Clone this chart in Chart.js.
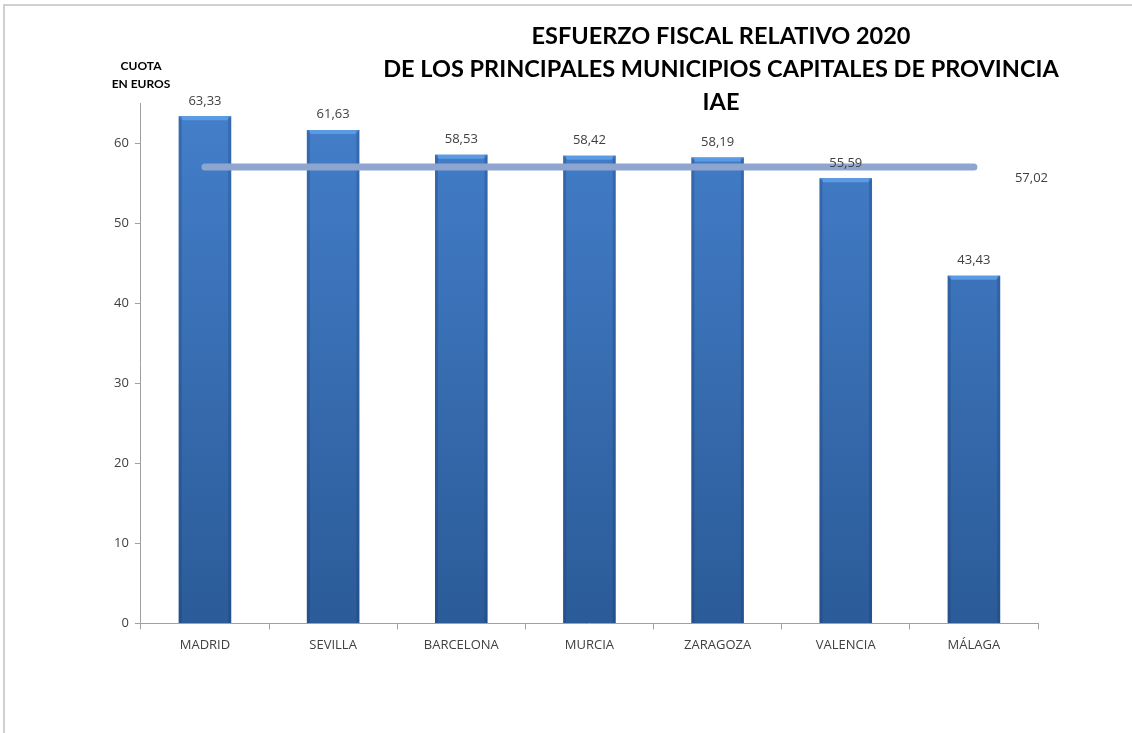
<!DOCTYPE html>
<html>
<head>
<meta charset="utf-8">
<script src="https://cdn.jsdelivr.net/npm/chart.js@4"></script>
<style>
  html, body { margin: 0; padding: 0; background: #fff; }
  #marco { position: absolute; left: 3px; top: 4px; width: 1129px; height: 729px;
           border-left: 2px solid #d0d0d0; border-top: 2px solid #d0d0d0; box-sizing: border-box; }
  #wrap { position: absolute; left: 0; top: 0; width: 1132px; height: 733px; }
</style>
</head>
<body>
<div id="marco"></div>
<div id="wrap"><canvas id="myChart" width="1132" height="733"></canvas></div>
<script>
// Datos del gráfico
var municipios = ["MADRID", "SEVILLA", "BARCELONA", "MURCIA", "ZARAGOZA", "VALENCIA", "MÁLAGA"];
var cuotas = [63.33, 61.63, 58.53, 58.42, 58.19, 55.59, 43.43];
var mediaCuota = 57.02;
var ticksY = [0, 10, 20, 30, 40, 50, 60];
var titulo = ["ESFUERZO FISCAL RELATIVO 2020", "DE LOS PRINCIPALES MUNICIPIOS CAPITALES DE PROVINCIA", "IAE"];

function formato(v) {
  return v.toFixed(2).replace(".", ",");
}

var ctx = document.getElementById("myChart").getContext("2d");

// Plugin para títulos, etiquetas de valor y bisel de las barras
var extras = {
  id: "extras",
  afterDatasetDraw: function (chart, args) {
    if (args.index !== 1) return;
    var c = chart.ctx;
    var barras = args.meta.data;
    c.save();
    barras.forEach(function (b) {
      var w = b.width;
      var x0 = b.x - w / 2;
      // bisel superior
      c.fillStyle = "#5b9be3";
      c.beginPath();
      c.moveTo(x0, b.y);
      c.lineTo(x0 + w, b.y);
      c.lineTo(x0 + w - 4, b.y + 4);
      c.lineTo(x0 + 4, b.y + 4);
      c.closePath();
      c.fill();
      // bordes laterales
      c.fillStyle = "rgba(20,50,100,0.25)";
      c.fillRect(x0, b.y, 3, b.base - b.y);
      c.fillRect(x0 + w - 3, b.y, 3, b.base - b.y);
    });
    c.restore();
  },
  afterDraw: function (chart) {
    var c = chart.ctx;
    c.save();
    // valores encima de cada barra
    c.font = "13px 'Open Sans', sans-serif";
    c.fillStyle = "#404040";
    c.textAlign = "center";
    c.textBaseline = "bottom";
    var barras = chart.getDatasetMeta(1).data;
    barras.forEach(function (b, i) {
      c.fillText(formato(cuotas[i]), b.x, b.y - 9);
    });
    // etiqueta de la media
    var linea = chart.getDatasetMeta(0).data;
    var ultimo = linea[linea.length - 1];
    c.textAlign = "left";
    c.textBaseline = "middle";
    c.fillText(formato(mediaCuota), ultimo.x + 41, ultimo.y + 11);
    // título
    c.font = "bold 23.5px Lato, sans-serif";
    c.fillStyle = "#000";
    c.textAlign = "center";
    titulo.forEach(function (t, i) {
      c.fillText(t, 721, 36 + i * 33);
    });
    // título del eje Y
    c.font = "bold 12px Lato, sans-serif";
    c.fillText("CUOTA", 141, 66);
    c.fillText("EN EUROS", 141, 84);
    c.restore();
  }
};

var myChart = new Chart(ctx, {
  data: {
    labels: municipios,
    datasets: [
      {
        type: "line",
        label: "Media",
        data: municipios.map(function () { return mediaCuota; }),
        borderColor: "#8ea6cf",
        borderWidth: 7,
        borderCapStyle: "round",
        pointRadius: 0,
        order: 0
      },
      {
        type: "bar",
        label: "Cuota",
        data: cuotas,
        backgroundColor: function (context) {
          var area = context.chart.chartArea;
          if (!area) return "#3a74bd";
          var g = context.chart.ctx.createLinearGradient(0, area.top, 0, area.bottom);
          g.addColorStop(0, "#447fcb");
          g.addColorStop(1, "#2b5b98");
          return g;
        },
        borderWidth: 0,
        barPercentage: 0.41,
        categoryPercentage: 1,
        order: 1
      }
    ]
  },
  options: {
    responsive: false,
    animation: false,
    layout: { padding: { left: 108, right: 94, top: 103, bottom: 72 } },
    scales: {
      x: {
        offset: true,
        grid: { offset: true, drawOnChartArea: false, tickLength: 6, color: "#a0a0a0" },
        border: { color: "#a0a0a0" },
        ticks: { color: "#404040", font: { size: 13, family: "'Open Sans', sans-serif" }, padding: 8, maxRotation: 0 }
      },
      y: {
        min: 0,
        max: 65,
        afterBuildTicks: function (axis) {
          axis.ticks = ticksY.map(function (v) { return { value: v }; });
        },
        grid: { drawOnChartArea: false, tickLength: 6, color: "#a0a0a0" },
        border: { color: "#a0a0a0" },
        ticks: { color: "#404040", font: { size: 13, family: "'Open Sans', sans-serif" }, padding: 6 }
      }
    },
    plugins: {
      legend: { display: false },
      tooltip: { enabled: false }
    }
  },
  plugins: [extras]
});
</script>
</body>
</html>
